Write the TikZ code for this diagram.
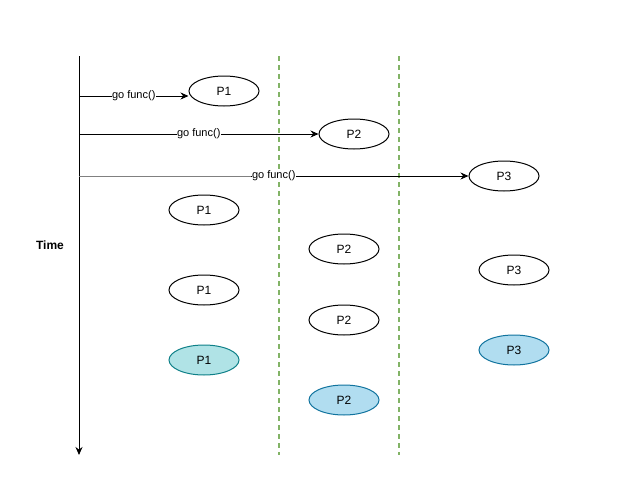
\documentclass[tikz,border=0pt]{standalone}
\usepackage{fontspec}
\setmainfont{Liberation Sans}
\usetikzlibrary{arrows.meta,shapes.geometric}
\definecolor{dgreen}{HTML}{82B366}
\definecolor{tealfill}{HTML}{B0E3E6}
\definecolor{tealline}{HTML}{0E8088}
\definecolor{bluefill}{HTML}{B1DDF0}
\definecolor{blueline}{HTML}{10739E}
\tikzset{
  x=1pt,y=-1pt,
  proc/.style={ellipse,draw=black,line width=1pt,minimum width=70pt,minimum height=30pt,inner sep=0pt,font=\fontsize{12}{14}\selectfont},
  proctea/.style={proc,draw=tealline,fill=tealfill},
  procblue/.style={proc,draw=blueline,fill=bluefill},
  lane/.style={draw=dgreen,line width=1.6pt,dash pattern=on 5pt off 4pt},
  call/.style={draw=black,line width=1pt,-{Stealth[length=8pt,width=7pt]}},
  lbl/.style={fill=white,inner sep=0.5pt,font=\fontsize{11}{13}\selectfont}
}
\begin{document}
\begin{tikzpicture}
\useasboundingbox (0,0) rectangle (625,479);
% lanes
\coordinate (l1t) at (279,56); \coordinate (l1b) at (279,455);
\coordinate (l2t) at (399,56); \coordinate (l2b) at (399,455);
\draw[lane] (l1t) -- (l1b);
\draw[lane] (l2t) -- (l2b);
% time axis
\coordinate (tt) at (79,56); \coordinate (tb) at (79,455);
\draw[line width=1pt,-{Stealth[length=8pt,width=7pt]}] (tt) -- (tb);
\node[font=\bfseries\fontsize{12}{14}\selectfont] (time) at (50,245) {Time};
% processes
\node[proc] (p1a) at (224,91) {P1};
\node[proc] (p2a) at (354,134) {P2};
\node[proc] (p3a) at (504,176) {P3};
\node[proc] (p1b) at (204,210) {P1};
\node[proc] (p1c) at (204,290) {P1};
\node[proctea] (p1d) at (204,360) {P1};
\node[proc] (p2b) at (344,249) {P2};
\node[proc] (p2c) at (344,320) {P2};
\node[procblue] (p2d) at (344,400) {P2};
\node[proc] (p3b) at (514,270) {P3};
\node[procblue] (p3c) at (514,350) {P3};
% calls
\coordinate (s1) at (79,96);
\coordinate (s2) at (79,134);
\coordinate (s3) at (79,176);
\draw[call] (s1) -- (p1a.west |- s1) node[lbl,pos=0.5] (g1) {go func()};
\draw[call] (s2) -- (p2a.west) node[lbl,pos=0.5] (g2) {go func()};
\draw[call] (s3) -- (p3a.west) node[lbl,pos=0.5] (g3) {go func()};
\draw[gray,line width=1pt] (s3) -- (g3.west);
\end{tikzpicture}
\end{document}
